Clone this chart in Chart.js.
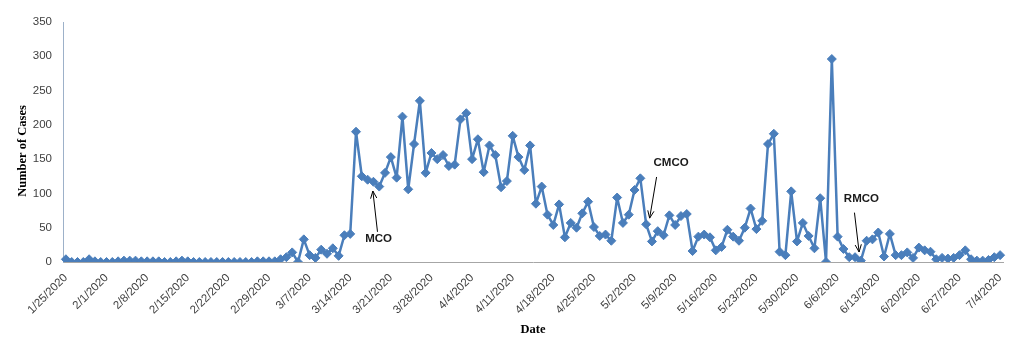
<!DOCTYPE html>
<html>
<head>
<meta charset="utf-8">
<script src="https://cdn.jsdelivr.net/npm/chart.js@4"></script>
<style>
  html, body { margin: 0; padding: 0; background: #fff; }
  #wrap { width: 1024px; height: 355px; position: relative; }
</style>
</head>
<body>
<div id="wrap"><canvas id="c" width="1024" height="355"></canvas></div>
<script>
// ---- data ----
const startDate = [2020, 1, 25];          // first category: 1/25/2020
const casesJan = [4, 0, 0, 0, 4, 1, 0];
const casesFeb = [0, 0, 1, 2, 2, 2, 1, 1, 1, 1, 0, 0, 1, 2, 1,
                  0, 0, 0, 0, 0, 0, 0, 0, 0, 0, 0, 1, 1, 1];
const casesMar = [1, 4, 7, 14, 0, 33, 10, 6, 18, 12, 20, 9, 39, 41, 190, 125, 120, 117, 110, 130,
                  153, 123, 212, 106, 172, 235, 130, 159, 150, 156, 140];
const casesApr = [142, 208, 217, 150, 179, 131, 170, 156, 109, 118, 184, 153, 134, 170, 85, 110, 69, 54, 84, 36,
                  57, 50, 71, 88, 51, 38, 40, 31, 94, 57];
const casesMay = [69, 105, 122, 55, 30, 45, 39, 68, 54, 67, 70, 16, 37, 40, 36, 17, 22, 47, 37, 31,
                  50, 78, 48, 60, 172, 187, 15, 10, 103, 30, 57];
const casesJun = [38, 20, 93, 0, 296, 37, 19, 7, 7, 2, 31, 33, 43, 8, 41, 10, 10, 14, 6, 21,
                  17, 15, 4, 6, 5, 6, 10, 17, 4, 2];
const casesJul = [2, 3, 7, 10];
const yTicks = [0, 50, 100, 150, 200, 250, 300, 350];
const labelEvery = 7;
const xTitle = 'Date';
const yTitle = 'Number of Cases';

// annotation texts and the data point each one refers to
const noteTexts = ['MCO', 'CMCO', 'RMCO'];
const noteDates = ['3/18/2020', '5/4/2020', '6/10/2020'];

// ---- derived ----
const cases = [].concat(casesJan, casesFeb, casesMar, casesApr, casesMay, casesJun, casesJul);
const dates = [];
{
  const d = new Date(startDate[0], startDate[1] - 1, startDate[2]);
  for (let i = 0; i < cases.length; i++) {
    dates.push((d.getMonth() + 1) + '/' + d.getDate() + '/' + d.getFullYear());
    d.setDate(d.getDate() + 1);
  }
}

// annotation layout (offsets from the referenced point, in category / value units)
const noteLayout = [
  { text: [0.9, -83], tail: [0.7, -73], tip: [-0.1, -13.5] },
  { text: [4.3, 90],  tail: [1.8, 69],  tip: [0.6, 9] },
  { text: [0.1, 90],  tail: [-1.1, 70], tip: [-0.3, 12.6] }
];

const notesPlugin = {
  id: 'notes',
  afterDatasetsDraw(chart) {
    const { ctx, scales: { x, y }, chartArea } = chart;
    ctx.save();
    ctx.strokeStyle = '#000';
    ctx.fillStyle = '#1a1a1a';
    ctx.lineWidth = 1;
    ctx.font = 'bold 11.5px "Liberation Sans", Arial, sans-serif';
    ctx.textAlign = 'center';
    ctx.textBaseline = 'middle';
    noteTexts.forEach((t, i) => {
      const idx = dates.indexOf(noteDates[i]);
      const v = cases[idx];
      const L = noteLayout[i];
      const px = (p) => [x.getPixelForValue(idx + p[0]), y.getPixelForValue(v + p[1])];
      const [tx, ty] = px(L.text);
      const [ax, ay] = px(L.tail);
      const [bx, by] = px(L.tip);
      ctx.fillText(t, tx, ty);
      ctx.beginPath();
      ctx.moveTo(ax, ay);
      ctx.lineTo(bx, by);
      const ang = Math.atan2(by - ay, bx - ax);
      const h = 8, w = 0.4;
      ctx.moveTo(bx - h * Math.cos(ang - w), by - h * Math.sin(ang - w));
      ctx.lineTo(bx, by);
      ctx.lineTo(bx - h * Math.cos(ang + w), by - h * Math.sin(ang + w));
      ctx.stroke();
    });
    // y-axis title (Excel places it slightly below the plot centre)
    ctx.fillStyle = '#000';
    ctx.font = 'bold 12.5px "Liberation Serif", "Times New Roman", serif';
    ctx.translate(23, (chartArea.top + chartArea.bottom) / 2 + 9);
    ctx.rotate(-Math.PI / 2);
    ctx.fillText(yTitle, 0, 0);
    ctx.restore();
  }
};

const tickFont = { family: '"Liberation Sans", Arial, sans-serif', size: 11.5 };
const titleFont = { family: '"Liberation Serif", "Times New Roman", serif', size: 12.5, weight: 'bold' };

new Chart(document.getElementById('c'), {
  type: 'line',
  data: {
    labels: dates,
    datasets: [{
      data: cases,
      borderColor: '#4A7EBB',
      backgroundColor: '#4A7EBB',
      borderWidth: 2.5,
      borderJoinStyle: 'round',
      borderCapStyle: 'round',
      pointStyle: 'rectRot',
      pointRadius: 4.5,
      pointBorderWidth: 1,
      pointBackgroundColor: '#4A7EBB',
      pointBorderColor: '#4A7EBB',
      tension: 0
    }]
  },
  options: {
    responsive: false,
    animation: false,
    devicePixelRatio: 1,
    layout: { padding: { left: 0, right: 21, top: 22, bottom: 0 } },
    plugins: { legend: { display: false }, tooltip: { enabled: false } },
    scales: {
      x: {
        type: 'category',
        offset: true,
        grid: { display: false, drawTicks: false },
        border: { display: true, color: '#A6A6A6', width: 1 },
        ticks: {
          autoSkip: false,
          minRotation: 45,
          maxRotation: 45,
          padding: 9,
          color: '#404040',
          font: tickFont,
          callback: (v, i) => (i % labelEvery === 0 ? dates[i] : null)
        },
        title: { display: true, text: xTitle, color: '#000', font: titleFont, padding: { top: 0, bottom: 18 } },
        afterFit: (s) => { s.height = 93; }
      },
      y: {
        min: yTicks[0],
        max: yTicks[yTicks.length - 1],
        grid: { display: false, drawTicks: false },
        border: { display: true, color: '#9DB1C9', width: 1 },
        afterBuildTicks: (s) => { s.ticks = yTicks.map(v => ({ value: v })); },
        ticks: { padding: 11, color: '#404040', font: tickFont },
        title: { display: false },
        afterFit: (s) => { s.width = 63; }
      }
    }
  },
  plugins: [notesPlugin]
});
</script>
</body>
</html>
